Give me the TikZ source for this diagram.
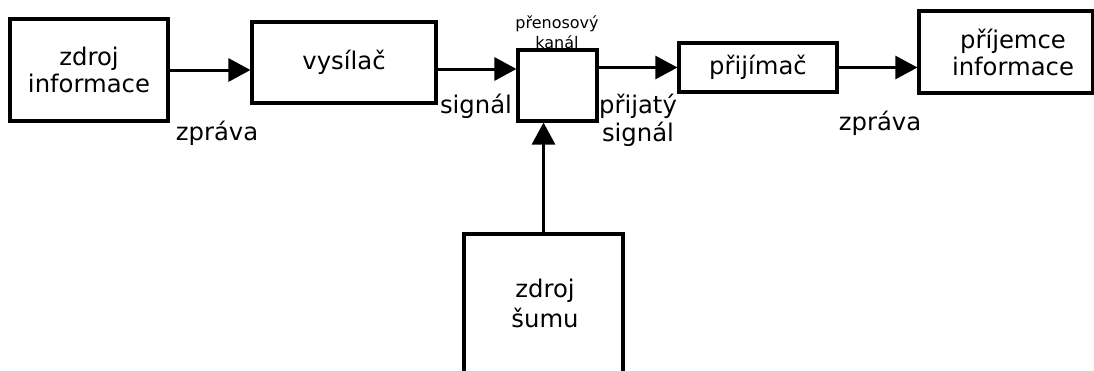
\documentclass[tikz,border=0pt]{standalone}
\usepackage{fontspec}
\setmainfont{DejaVu Sans}
\usetikzlibrary{arrows.meta}
\begin{document}
\begin{tikzpicture}[x=1pt,y=-1pt,
  blk/.style={draw,line width=3.1pt,inner sep=0pt,align=center,font=\fontsize{24.3}{27}\selectfont},
  lbl/.style={inner sep=0pt,align=center,font=\fontsize{24.3}{28}\selectfont},
  small/.style={inner sep=0pt,align=center,font=\fontsize{16}{20}\selectfont},
  conn/.style={line width=3pt,-{Triangle[length=22pt,width=23pt]}},
  connthin/.style={line width=2.4pt,-{Triangle[length=22pt,width=23pt]}}]
\useasboundingbox (0,0) rectangle (1094,370);
\clip (0,0) rectangle (1094,370);
\fill[white] (0,0) rectangle (1094,370);
% boxes
\node[blk,minimum width=158pt,minimum height=102pt] (src) at (89,70) {zdroj\\informace};
\node[blk,minimum width=184pt,minimum height=81pt] (tx) at (344,62.5) {vysílač};
\node[blk,minimum width=79pt,minimum height=71pt] (ch) at (557.5,85.5) {};
\node[blk,minimum width=158pt,minimum height=49pt] (rx) at (758,67.5) {přijímač};
\node[blk,minimum width=174pt,minimum height=82pt] (dst) at (1006,52) {\hspace*{14pt}příjemce\\\hspace*{14pt}informace};
\node[blk,minimum width=159pt,minimum height=180pt] (noise) at (543.5,324) {};
\node[lbl,font=\fontsize{24.3}{30}\selectfont] (noisetxt) at (545,303) {zdroj\\šumu};
% connectors
\draw[conn] (src.east) -- (src.east -| tx.west);
\coordinate (s2) at ([yshift=-6.5pt]tx.east);
\draw[conn] (s2) -- (s2 -| ch.west);
\draw[connthin] (rx.west -| ch.east) -- (rx.west);
\draw[connthin] (rx.east) -- (rx.east -| dst.west);
\draw[conn] (noise.north) -- (noise.north |- ch.south);
% labels
\node[lbl] (l1) at (217,133) {zpráva};
\node[lbl] (l2) at (476,106) {signál};
\node[lbl] (l3) at (638,120) {přijatý\\signál};
\node[lbl] (l4) at (880,123) {zpráva};
\node[small] (l5) at (557,32) {přenosový\\kanál};
\end{tikzpicture}
\end{document}
